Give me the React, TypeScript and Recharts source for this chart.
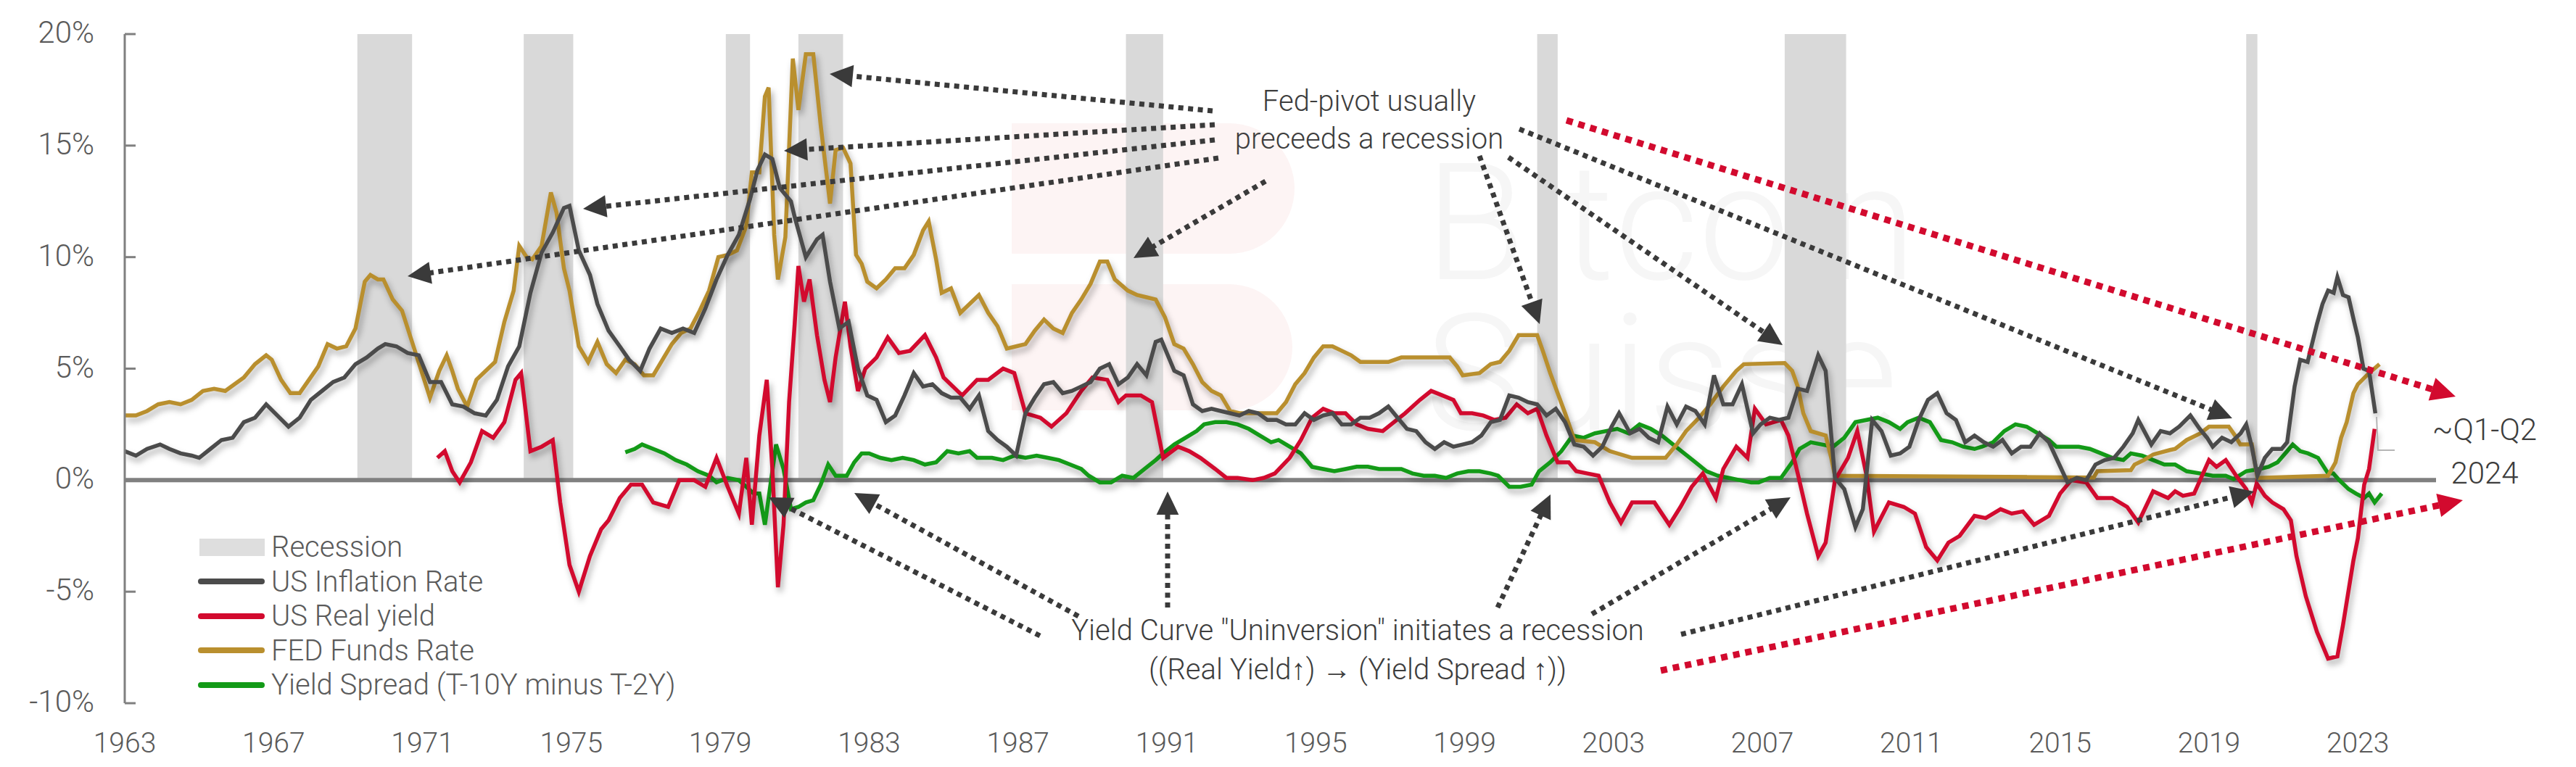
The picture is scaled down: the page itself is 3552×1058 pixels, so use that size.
import React from "react";
import { LineChart, Line, XAxis, YAxis, ReferenceArea, ReferenceLine } from "recharts";

const W = 3552;
const H = 1058;
const FONT = "Roboto, 'Open Sans', 'Liberation Sans', sans-serif";

const INFL = "#4b4b4b";
const REAL = "#d20a2e";
const FED = "#b98f2e";
const SPREAD = "#139a17";

const yearTicks = [1963, 1967, 1971, 1975, 1979, 1983, 1987, 1991, 1995, 1999, 2003, 2007, 2011, 2015, 2019, 2023];
const percentTicks = [-10, -5, 0, 5, 10, 15, 20];

const recessionStart = [1969.25, 1973.72, 1979.15, 1981.1, 1989.9, 2000.95, 2007.6, 2020.0];
const recessionEnd = [1970.72, 1975.05, 1979.8, 1982.3, 1990.9, 2001.5, 2009.25, 2020.3];

// [year, %]
const inflation: [number, number][] = [
  [1963.0, 1.3], [1963.3, 1.1], [1963.6, 1.4], [1963.95, 1.6], [1964.2, 1.4], [1964.5, 1.2], [1964.8, 1.1],
  [1965.0, 1.0], [1965.3, 1.4], [1965.6, 1.8], [1965.9, 1.9], [1966.2, 2.6], [1966.5, 2.8], [1966.8, 3.4],
  [1967.1, 2.9], [1967.4, 2.4], [1967.7, 2.8], [1968.0, 3.6], [1968.3, 4.0], [1968.6, 4.4], [1968.9, 4.6],
  [1969.2, 5.2], [1969.5, 5.5], [1969.8, 5.9], [1970.0, 6.1], [1970.3, 6.0], [1970.6, 5.7], [1970.9, 5.6],
  [1971.2, 4.4], [1971.5, 4.4], [1971.8, 3.4], [1972.1, 3.3], [1972.4, 3.0], [1972.7, 2.9], [1973.0, 3.6],
  [1973.3, 5.1], [1973.6, 6.0], [1973.9, 8.4], [1974.2, 10.2], [1974.5, 11.1], [1974.8, 12.2], [1974.95, 12.3],
  [1975.2, 10.3], [1975.5, 9.2], [1975.7, 7.9], [1976.0, 6.7], [1976.3, 6.0], [1976.55, 5.4], [1976.85, 4.9],
  [1977.1, 5.9], [1977.4, 6.8], [1977.7, 6.6], [1978.0, 6.8], [1978.3, 6.6], [1978.6, 7.7], [1978.9, 9.0],
  [1979.2, 10.1], [1979.5, 11.0], [1979.8, 12.6], [1980.0, 13.9], [1980.2, 14.6], [1980.4, 14.4], [1980.6, 13.1],
  [1980.9, 12.5], [1981.0, 11.8], [1981.3, 10.0], [1981.6, 10.8], [1981.75, 11.0], [1981.95, 8.9], [1982.2, 6.8],
  [1982.45, 7.1], [1982.7, 5.0], [1982.95, 3.8], [1983.2, 3.6], [1983.45, 2.6], [1983.7, 2.9], [1983.95, 3.8],
  [1984.2, 4.8], [1984.45, 4.2], [1984.7, 4.3], [1984.95, 3.9], [1985.2, 3.7], [1985.45, 3.7], [1985.7, 3.2],
  [1985.95, 3.8], [1986.2, 2.2], [1986.45, 1.8], [1986.7, 1.5], [1986.95, 1.1], [1987.2, 3.0], [1987.45, 3.7],
  [1987.7, 4.3], [1987.95, 4.4], [1988.2, 3.9], [1988.45, 4.0], [1988.7, 4.2], [1988.95, 4.4], [1989.2, 5.0],
  [1989.45, 5.2], [1989.7, 4.3], [1989.95, 4.6], [1990.2, 5.2], [1990.45, 4.7], [1990.7, 6.2], [1990.85, 6.3],
  [1991.0, 5.7], [1991.2, 4.9], [1991.45, 4.7], [1991.7, 3.4], [1991.95, 3.1], [1992.2, 3.2], [1992.45, 3.1],
  [1992.7, 3.0], [1992.95, 2.9], [1993.2, 3.1], [1993.45, 3.0], [1993.7, 2.7], [1993.95, 2.7], [1994.2, 2.5],
  [1994.45, 2.5], [1994.7, 3.0], [1994.95, 2.7], [1995.2, 2.9], [1995.45, 3.0], [1995.7, 2.5], [1995.95, 2.5],
  [1996.2, 2.8], [1996.45, 2.8], [1996.7, 3.0], [1996.95, 3.3], [1997.2, 2.8], [1997.45, 2.3], [1997.7, 2.2],
  [1997.95, 1.7], [1998.2, 1.4], [1998.45, 1.7], [1998.7, 1.5], [1998.95, 1.6], [1999.2, 1.7], [1999.45, 2.0],
  [1999.7, 2.6], [1999.95, 2.7], [2000.2, 3.8], [2000.45, 3.7], [2000.7, 3.5], [2000.95, 3.4], [2001.2, 2.9],
  [2001.45, 3.2], [2001.7, 2.6], [2001.95, 1.6], [2002.2, 1.5], [2002.45, 1.1], [2002.7, 1.5], [2002.95, 2.4],
  [2003.15, 3.0], [2003.45, 2.1], [2003.7, 2.3], [2003.95, 1.9], [2004.2, 1.7], [2004.45, 3.3], [2004.7, 2.5],
  [2004.95, 3.3], [2005.2, 3.1], [2005.45, 2.5], [2005.7, 4.7], [2005.95, 3.4], [2006.2, 3.4], [2006.45, 4.3],
  [2006.75, 2.1], [2006.95, 2.5], [2007.2, 2.8], [2007.45, 2.7], [2007.7, 2.8], [2007.95, 4.1], [2008.2, 4.0],
  [2008.5, 5.6], [2008.7, 4.9], [2008.95, 0.1], [2009.2, -0.4], [2009.5, -2.1], [2009.7, -1.3], [2009.95, 2.7],
  [2010.2, 2.2], [2010.45, 1.1], [2010.7, 1.2], [2010.95, 1.5], [2011.2, 2.7], [2011.45, 3.6], [2011.7, 3.9],
  [2011.95, 3.0], [2012.2, 2.7], [2012.45, 1.7], [2012.7, 2.0], [2012.95, 1.7], [2013.2, 1.5], [2013.45, 1.8],
  [2013.7, 1.2], [2013.95, 1.5], [2014.2, 1.5], [2014.45, 2.1], [2014.7, 1.7], [2014.95, 0.8], [2015.2, -0.1],
  [2015.45, 0.1], [2015.7, 0.0], [2015.95, 0.7], [2016.2, 0.9], [2016.45, 1.0], [2016.7, 1.5], [2016.95, 2.1],
  [2017.1, 2.7], [2017.45, 1.6], [2017.7, 2.2], [2017.95, 2.1], [2018.2, 2.4], [2018.5, 2.9], [2018.75, 2.3],
  [2018.95, 1.9], [2019.1, 1.5], [2019.35, 1.9], [2019.6, 1.7], [2019.85, 2.1], [2020.0, 2.5], [2020.15, 1.5],
  [2020.3, 0.2], [2020.5, 1.0], [2020.7, 1.4], [2020.95, 1.4], [2021.1, 1.7], [2021.3, 4.2], [2021.45, 5.4],
  [2021.65, 5.3], [2021.9, 7.0], [2022.05, 7.9], [2022.2, 8.5], [2022.35, 8.4], [2022.45, 9.1], [2022.6, 8.3],
  [2022.75, 8.2], [2022.9, 7.1], [2023.0, 6.4], [2023.15, 5.0], [2023.3, 4.9], [2023.47, 3.0],
];

const realYield: [number, number][] = [
  [1971.4, 1.0], [1971.6, 1.3], [1971.8, 0.4], [1972.0, -0.1], [1972.3, 0.8], [1972.6, 2.2], [1972.9, 1.9],
  [1973.2, 2.6], [1973.5, 4.5], [1973.65, 4.8], [1973.9, 1.3], [1974.2, 1.5], [1974.5, 1.8], [1974.7, -1.0],
  [1974.95, -3.8], [1975.2, -5.0], [1975.5, -3.4], [1975.8, -2.2], [1976.0, -1.8], [1976.3, -0.8], [1976.6, -0.2],
  [1976.9, -0.2], [1977.2, -1.0], [1977.6, -1.2], [1977.9, 0.0], [1978.3, 0.0], [1978.6, -0.3], [1978.9, 1.0],
  [1979.2, -0.3], [1979.5, -1.5], [1979.7, 1.0], [1979.85, -2.0], [1980.05, 2.0], [1980.25, 4.5], [1980.4, 0.5],
  [1980.55, -4.8], [1980.7, -2.0], [1980.85, 3.5], [1981.0, 7.0], [1981.1, 9.6], [1981.25, 8.0], [1981.4, 9.0],
  [1981.6, 6.5], [1981.8, 4.5], [1981.95, 3.5], [1982.1, 5.5], [1982.35, 8.0], [1982.5, 6.0], [1982.7, 4.0],
  [1982.9, 5.0], [1983.2, 5.5], [1983.5, 6.4], [1983.8, 5.7], [1984.1, 5.8], [1984.5, 6.5], [1984.8, 5.5],
  [1985.0, 4.6], [1985.5, 3.8], [1985.9, 4.5], [1986.2, 4.5], [1986.6, 5.0], [1986.9, 4.8], [1987.2, 3.0],
  [1987.6, 2.8], [1987.9, 2.4], [1988.3, 3.0], [1988.7, 4.0], [1989.0, 4.6], [1989.4, 4.5], [1989.7, 3.5],
  [1989.9, 3.8], [1990.3, 3.8], [1990.6, 3.5], [1990.9, 1.0], [1991.3, 1.5], [1991.6, 1.3], [1991.9, 1.0],
  [1992.3, 0.5], [1992.6, 0.1], [1992.9, 0.1], [1993.3, 0.0], [1993.6, 0.1], [1993.9, 0.3], [1994.3, 1.0],
  [1994.6, 1.8], [1994.9, 2.8], [1995.2, 3.2], [1995.5, 3.0], [1995.8, 3.0], [1996.1, 2.5], [1996.4, 2.3],
  [1996.8, 2.2], [1997.1, 2.6], [1997.4, 3.0], [1997.8, 3.6], [1998.1, 4.0], [1998.4, 3.8], [1998.7, 3.6],
  [1998.9, 3.0], [1999.2, 3.0], [1999.5, 2.9], [1999.8, 2.7], [2000.1, 2.8], [2000.4, 3.4], [2000.7, 3.0],
  [2000.95, 3.2], [2001.2, 2.0], [2001.5, 0.8], [2001.8, 0.8], [2002.0, 0.4], [2002.3, 0.3], [2002.6, 0.2],
  [2002.9, -1.0], [2003.2, -1.9], [2003.5, -1.0], [2003.8, -1.0], [2004.1, -1.0], [2004.5, -2.0], [2004.8, -1.2],
  [2005.1, -0.3], [2005.4, 0.3], [2005.75, -0.8], [2005.95, 0.5], [2006.3, 1.5], [2006.6, 1.0], [2006.8, 3.2],
  [2007.1, 2.5], [2007.5, 2.7], [2007.7, 2.0], [2007.95, 0.3], [2008.2, -1.5], [2008.5, -3.4], [2008.7, -2.8],
  [2008.95, 0.0], [2009.3, 1.0], [2009.55, 2.2], [2009.8, 0.2], [2010.0, -2.3], [2010.4, -1.0], [2010.8, -1.2],
  [2011.1, -1.5], [2011.4, -3.0], [2011.7, -3.6], [2012.0, -2.8], [2012.3, -2.5], [2012.7, -1.6], [2013.0, -1.7],
  [2013.4, -1.3], [2013.7, -1.5], [2014.0, -1.4], [2014.3, -2.0], [2014.7, -1.6], [2015.0, -0.6], [2015.3, 0.0],
  [2015.7, -0.1], [2016.0, -0.8], [2016.4, -0.8], [2016.8, -1.2], [2017.1, -1.9], [2017.5, -0.5], [2017.9, -0.8],
  [2018.09, -0.5], [2018.3, -0.7], [2018.6, -0.6], [2019.0, 0.9], [2019.2, 0.6], [2019.45, 0.9], [2019.75, 0.15],
  [2020.0, -0.4], [2020.15, -1.0], [2020.28, -0.15], [2020.5, -0.7], [2020.7, -1.0], [2021.0, -1.3], [2021.2, -1.8],
  [2021.35, -3.4], [2021.6, -5.2], [2021.9, -6.8], [2022.2, -8.0], [2022.45, -7.9], [2022.6, -6.5], [2022.88, -3.6],
  [2023.0, -2.6], [2023.17, -0.2], [2023.3, 0.5], [2023.45, 2.3],
];

const fedFunds: [number, number][] = [
  [1963.0, 2.9], [1963.3, 2.9], [1963.6, 3.1], [1963.9, 3.4], [1964.2, 3.5], [1964.5, 3.4], [1964.8, 3.6],
  [1965.1, 4.0], [1965.4, 4.1], [1965.7, 4.0], [1965.95, 4.3], [1966.2, 4.6], [1966.5, 5.2], [1966.8, 5.6],
  [1966.95, 5.4], [1967.2, 4.5], [1967.45, 3.9], [1967.7, 3.9], [1967.95, 4.5], [1968.2, 5.1], [1968.45, 6.1],
  [1968.7, 5.9], [1968.95, 6.0], [1969.2, 6.8], [1969.45, 8.9], [1969.6, 9.2], [1969.8, 9.0], [1969.95, 9.0],
  [1970.2, 8.1], [1970.45, 7.6], [1970.7, 6.3], [1970.95, 5.0], [1971.2, 3.7], [1971.45, 4.9], [1971.65, 5.6],
  [1971.8, 4.9], [1971.95, 4.1], [1972.2, 3.3], [1972.45, 4.5], [1972.7, 4.9], [1972.95, 5.3], [1973.2, 7.1],
  [1973.45, 8.5], [1973.6, 10.5], [1973.8, 10.0], [1973.95, 9.9], [1974.2, 10.5], [1974.45, 12.9], [1974.6, 12.0],
  [1974.8, 9.5], [1974.95, 8.5], [1975.2, 6.0], [1975.45, 5.3], [1975.7, 6.2], [1975.95, 5.2], [1976.2, 4.8],
  [1976.45, 5.4], [1976.7, 5.2], [1976.95, 4.7], [1977.2, 4.7], [1977.45, 5.4], [1977.7, 6.1], [1977.95, 6.6],
  [1978.2, 6.8], [1978.45, 7.6], [1978.7, 8.5], [1978.95, 10.0], [1979.2, 10.1], [1979.45, 10.3], [1979.7, 11.4],
  [1979.85, 13.8], [1980.05, 13.8], [1980.2, 17.2], [1980.3, 17.6], [1980.45, 11.0], [1980.55, 9.0], [1980.75, 10.9],
  [1980.95, 18.9], [1981.1, 16.6], [1981.3, 19.1], [1981.5, 19.1], [1981.7, 15.9], [1981.95, 12.4], [1982.1, 14.8],
  [1982.3, 14.9], [1982.5, 14.2], [1982.65, 10.1], [1982.8, 9.7], [1982.95, 8.9], [1983.2, 8.6], [1983.45, 9.0],
  [1983.7, 9.5], [1983.95, 9.5], [1984.2, 10.1], [1984.45, 11.2], [1984.6, 11.6], [1984.8, 9.9], [1984.95, 8.4],
  [1985.2, 8.6], [1985.45, 7.5], [1985.7, 7.9], [1985.95, 8.3], [1986.2, 7.5], [1986.45, 6.9], [1986.7, 5.9],
  [1986.95, 6.0], [1987.2, 6.1], [1987.45, 6.7], [1987.7, 7.2], [1987.95, 6.8], [1988.2, 6.6], [1988.45, 7.5],
  [1988.7, 8.1], [1988.95, 8.8], [1989.2, 9.8], [1989.4, 9.8], [1989.6, 9.0], [1989.95, 8.5], [1990.2, 8.3],
  [1990.45, 8.2], [1990.7, 8.1], [1990.95, 7.3], [1991.2, 6.1], [1991.45, 5.9], [1991.7, 5.2], [1991.95, 4.4],
  [1992.2, 4.0], [1992.45, 3.8], [1992.7, 3.1], [1992.95, 3.0], [1993.5, 3.0], [1993.95, 3.0], [1994.2, 3.5],
  [1994.45, 4.3], [1994.7, 4.8], [1994.95, 5.5], [1995.2, 6.0], [1995.45, 6.0], [1995.7, 5.8], [1995.95, 5.6],
  [1996.2, 5.3], [1996.5, 5.3], [1996.95, 5.3], [1997.3, 5.5], [1997.95, 5.5], [1998.6, 5.5], [1998.8, 5.1],
  [1998.95, 4.7], [1999.4, 4.8], [1999.7, 5.2], [1999.95, 5.3], [2000.2, 5.8], [2000.45, 6.5], [2000.95, 6.5],
  [2001.1, 5.8], [2001.3, 4.8], [2001.5, 3.9], [2001.7, 3.0], [2001.95, 1.8], [2002.5, 1.7], [2002.9, 1.3],
  [2003.5, 1.0], [2004.4, 1.0], [2004.7, 1.6], [2004.95, 2.2], [2005.3, 2.8], [2005.6, 3.4], [2005.95, 4.2],
  [2006.3, 4.9], [2006.5, 5.2], [2007.6, 5.25], [2007.8, 4.9], [2007.95, 4.2], [2008.1, 3.0], [2008.3, 2.2],
  [2008.7, 2.0], [2008.85, 1.0], [2008.95, 0.2], [2015.9, 0.12], [2016.0, 0.4], [2016.9, 0.45], [2017.0, 0.7],
  [2017.25, 0.9], [2017.5, 1.15], [2017.95, 1.35], [2018.09, 1.4], [2018.4, 1.8], [2018.77, 2.1], [2019.0, 2.4],
  [2019.3, 2.4], [2019.53, 2.4], [2019.7, 2.0], [2019.84, 1.6], [2020.15, 1.6], [2020.25, 0.6], [2020.3, 0.1],
  [2022.2, 0.2], [2022.4, 0.8], [2022.55, 1.9], [2022.7, 2.6], [2022.88, 3.9], [2023.0, 4.3], [2023.3, 4.8],
  [2023.58, 5.2],
];

const yieldSpread: [number, number][] = [
  [1976.45, 1.25], [1976.7, 1.4], [1976.9, 1.6], [1977.2, 1.4], [1977.5, 1.2], [1977.8, 0.9], [1978.1, 0.7],
  [1978.4, 0.4], [1978.7, 0.2], [1978.9, -0.1], [1979.2, 0.1], [1979.5, 0.0], [1979.7, -0.3], [1979.9, -0.6],
  [1980.05, -0.6], [1980.2, -2.0], [1980.35, -0.2], [1980.5, 1.6], [1980.7, 0.5], [1980.9, -1.3], [1981.1, -1.2],
  [1981.3, -1.0], [1981.5, -0.9], [1981.7, -0.2], [1981.9, 0.7], [1982.1, 0.2], [1982.4, 0.2], [1982.6, 0.8],
  [1982.8, 1.2], [1983.0, 1.2], [1983.3, 1.0], [1983.6, 0.9], [1983.9, 1.0], [1984.2, 0.9], [1984.5, 0.7],
  [1984.8, 0.8], [1985.1, 1.3], [1985.4, 1.2], [1985.7, 1.3], [1985.9, 1.0], [1986.3, 1.0], [1986.6, 0.9],
  [1986.9, 1.1], [1987.2, 1.0], [1987.5, 1.1], [1987.8, 1.0], [1988.1, 0.9], [1988.4, 0.7], [1988.7, 0.5],
  [1988.9, 0.2], [1989.2, -0.1], [1989.5, -0.1], [1989.8, 0.2], [1990.1, 0.1], [1990.4, 0.5], [1990.7, 0.9],
  [1990.9, 1.2], [1991.2, 1.6], [1991.5, 1.9], [1991.8, 2.2], [1992.0, 2.5], [1992.3, 2.6], [1992.6, 2.6],
  [1992.9, 2.5], [1993.2, 2.3], [1993.5, 2.0], [1993.8, 1.7], [1994.0, 1.8], [1994.3, 1.5], [1994.6, 1.2],
  [1994.9, 0.6], [1995.2, 0.5], [1995.5, 0.4], [1995.8, 0.5], [1996.1, 0.6], [1996.4, 0.6], [1996.7, 0.5],
  [1997.0, 0.5], [1997.3, 0.5], [1997.6, 0.3], [1997.9, 0.2], [1998.2, 0.2], [1998.5, 0.1], [1998.8, 0.3],
  [1999.1, 0.4], [1999.4, 0.4], [1999.7, 0.3], [1999.9, 0.2], [2000.2, -0.3], [2000.5, -0.3], [2000.8, -0.2],
  [2001.0, 0.4], [2001.3, 0.8], [2001.6, 1.3], [2001.9, 2.0], [2002.2, 1.9], [2002.5, 2.1], [2002.8, 2.2],
  [2003.1, 2.3], [2003.4, 2.1], [2003.7, 2.5], [2004.0, 2.3], [2004.3, 2.0], [2004.6, 1.6], [2004.9, 1.2],
  [2005.2, 0.8], [2005.5, 0.4], [2005.8, 0.2], [2006.1, 0.1], [2006.4, 0.0], [2006.7, -0.1], [2006.9, -0.1],
  [2007.2, 0.1], [2007.5, 0.1], [2007.8, 0.8], [2008.0, 1.4], [2008.3, 1.7], [2008.6, 1.6], [2008.9, 1.5],
  [2009.2, 1.9], [2009.5, 2.6], [2009.8, 2.7], [2010.1, 2.8], [2010.4, 2.6], [2010.7, 2.3], [2010.9, 2.6],
  [2011.2, 2.8], [2011.5, 2.6], [2011.8, 1.8], [2012.1, 1.7], [2012.4, 1.5], [2012.7, 1.4], [2012.9, 1.5],
  [2013.2, 1.7], [2013.5, 2.2], [2013.8, 2.5], [2014.1, 2.4], [2014.4, 2.1], [2014.7, 1.8], [2014.9, 1.5],
  [2015.2, 1.5], [2015.5, 1.5], [2015.8, 1.4], [2016.1, 1.2], [2016.4, 1.0], [2016.7, 0.9], [2016.9, 1.2],
  [2017.2, 1.1], [2017.5, 0.9], [2017.8, 0.7], [2018.09, 0.7], [2018.4, 0.4], [2018.77, 0.3], [2019.1, 0.2],
  [2019.45, 0.2], [2019.66, 0.05], [2020.0, 0.4], [2020.35, 0.5], [2020.6, 0.6], [2020.84, 0.8], [2021.1, 1.3],
  [2021.25, 1.6], [2021.45, 1.3], [2021.66, 1.2], [2021.93, 1.0], [2022.2, 0.3], [2022.34, 0.3], [2022.5, 0.0],
  [2022.75, -0.4], [2022.95, -0.6], [2023.17, -0.8], [2023.3, -0.6], [2023.45, -1.0], [2023.64, -0.6],
];

const legendLabels = ["Recession", "US Inflation Rate", "US Real yield", "FED Funds Rate", "Yield Spread (T-10Y minus T-2Y)"];
const legendColors = ["#dedede", INFL, REAL, FED, SPREAD];

// annotation arrows in page pixels: [x1, y1, tipX, tipY]
const darkArrows = [
  [1672, 153, 1144, 102], [1675, 172, 1081, 208], [1675, 193, 804, 288], [1680, 218, 562, 381],
  [1745, 250, 1563, 356], [2040, 215, 2123, 447], [2080, 217, 2458, 476], [2095, 178, 3078, 577],
  [1434, 877, 1060, 686], [1487, 850, 1178, 680], [1610, 838, 1610, 678], [2065, 838, 2138, 682],
  [2195, 847, 2469, 686], [2318, 875, 3108, 678],
];
const redArrows = [[2160, 166, 3386, 547], [2290, 925, 3396, 690]];

const toPoints = (rows: [number, number][]) => rows.map(([t, v]) => ({ t, v }));

function Arrow({ a, color, width, dash, head }: { a: number[]; color: string; width: number; dash: string; head: number }) {
  const [x1, y1, x2, y2] = a;
  const len = Math.hypot(x2 - x1, y2 - y1);
  const ux = (x2 - x1) / len;
  const uy = (y2 - y1) / len;
  const bx = x2 - ux * head;
  const by = y2 - uy * head;
  const hw = head * 0.48;
  return (
    <g>
      <line x1={x1} y1={y1} x2={bx + ux * 2} y2={by + uy * 2} stroke={color} strokeWidth={width} strokeDasharray={dash} />
      <polygon points={`${x2},${y2} ${bx - uy * hw},${by + ux * hw} ${bx + uy * hw},${by - ux * hw}`} fill={color} />
    </g>
  );
}

function PercentTick({ x, y, payload }: any) {
  return (
    <g>
      <text x={x} y={y + 12} textAnchor="end" fontSize={42} fontFamily={FONT} fontWeight={300} fill="#5a5a5a">
        {payload.value}%
      </text>
      <line x1={x + 42} x2={x + 57} y1={y} y2={y} stroke="#808080" strokeWidth={3} />
    </g>
  );
}

export default function App() {
  return (
    <div style={{ position: "absolute", left: 0, top: 0, width: W, height: H, background: "#fff", fontFamily: FONT }}>
      <style>{`.shadowed path.recharts-curve { filter: drop-shadow(3px 6px 4px rgba(0,0,0,0.32)); }`}</style>

      {/* faint watermark */}
      <svg width={W} height={H} style={{ position: "absolute", left: 0, top: 0 }}>
        <path d="M1395 170 h300 a90 90 0 0 1 0 180 h-300 z" fill="#fdf4f4" />
        <path d="M1395 392 h300 a87 87 0 0 1 0 174 h-300 z" fill="#fdf4f4" />
        <text x={1965} y={385} fontSize={225} fontFamily={FONT} fontWeight={300} fill="#f6f6f6">Bitcoin</text>
        <text x={1965} y={593} fontSize={225} fontFamily={FONT} fontWeight={300} fill="#f6f6f6">Suisse</text>
      </svg>

      <div style={{ position: "absolute", left: 0, top: 0 }}>
        <LineChart width={W} height={H} margin={{ top: 47, right: 193, bottom: 0, left: 22 }}>
          <XAxis
            dataKey="t"
            type="number"
            domain={[1963, 2025.1]}
            ticks={yearTicks}
            interval={0}
            allowDuplicatedCategory={false}
            axisLine={false}
            tickLine={false}
            tickSize={0}
            tickMargin={40}
            height={88}
            tick={{ fill: "#5a5a5a", fontSize: 39, fontFamily: FONT, fontWeight: 300 }}
          />
          <YAxis
            type="number"
            domain={[-10, 20]}
            ticks={percentTicks}
            interval={0}
            width={150}
            axisLine={{ stroke: "#808080", strokeWidth: 3 }}
            tickLine={false}
            tickSize={0}
            tickMargin={42}
            tick={<PercentTick />}
          />
          {recessionStart.map((s, i) => (
            <ReferenceArea key={`rec-${i}`} x1={s} x2={recessionEnd[i]} y1={0} y2={20} fill="#d9d9d9" fillOpacity={1} stroke="none" />
          ))}
          <ReferenceLine y={0} stroke="#808080" strokeWidth={6} />
          <Line className="shadowed" data={toPoints(yieldSpread)} dataKey="v" stroke={SPREAD} strokeWidth={5.5} dot={false} isAnimationActive={false} type="linear" />
          <Line className="shadowed" data={toPoints(fedFunds)} dataKey="v" stroke={FED} strokeWidth={5.5} dot={false} isAnimationActive={false} type="linear" />
          <Line className="shadowed" data={toPoints(realYield)} dataKey="v" stroke={REAL} strokeWidth={5.5} dot={false} isAnimationActive={false} type="linear" />
          <Line className="shadowed" data={toPoints(inflation)} dataKey="v" stroke={INFL} strokeWidth={5.5} dot={false} isAnimationActive={false} type="linear" />
        </LineChart>
      </div>

      {/* annotations */}
      <svg width={W} height={H} style={{ position: "absolute", left: 0, top: 0, pointerEvents: "none" }}>
        {darkArrows.map((a, i) => (
          <Arrow key={`d${i}`} a={a} color="#3a3a3a" width={7} dash="7 6.5" head={32} />
        ))}
        {redArrows.map((a, i) => (
          <Arrow key={`r${i}`} a={a} color={REAL} width={9} dash="9 8" head={34} />
        ))}
        <polyline points="3277,575 3279,621 3302,621" fill="none" stroke="#b5b5b5" strokeWidth={2} />
        <g fontFamily={FONT} fontWeight={300} fill="#3d3d3d" textAnchor="middle">
          <text x={1888} y={153} fontSize={40}>Fed-pivot usually</text>
          <text x={1888} y={205} fontSize={40}>preceeds a recession</text>
          <text x={1872} y={883} fontSize={40}>Yield Curve "Uninversion" initiates a recession</text>
          <text x={1872} y={937} fontSize={40}>((Real Yield↑) → (Yield Spread ↑))</text>
          <text x={3426} y={607} fontSize={42}>~Q1-Q2</text>
          <text x={3426} y={667} fontSize={42}>2024</text>
        </g>
      </svg>

      {/* legend */}
      <div style={{ position: "absolute", left: 273, top: 731 }}>
        {legendLabels.map((label, i) => (
          <div key={label} style={{ display: "flex", alignItems: "center", height: 47.5 }}>
            {i === 0 ? (
              <div style={{ width: 90, height: 24, background: legendColors[i], marginLeft: 2 }} />
            ) : (
              <div style={{ width: 92, height: 8, borderRadius: 4, background: legendColors[i] }} />
            )}
            <span style={{ marginLeft: 9, fontSize: 40, fontWeight: 300, color: "#5a5a5a", lineHeight: "47.5px", whiteSpace: "nowrap" }}>
              {label}
            </span>
          </div>
        ))}
      </div>
    </div>
  );
}
